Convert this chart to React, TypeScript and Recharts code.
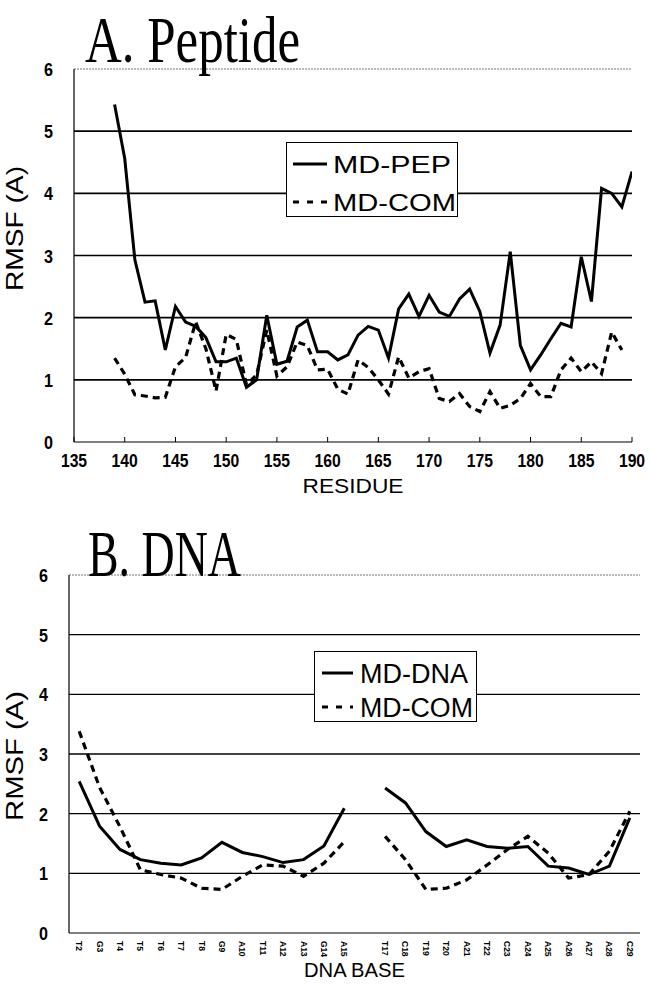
import React from 'react';
import { LineChart, Line, XAxis, YAxis, ReferenceLine, Legend } from 'recharts';

// ---------- Panel A: Peptide ----------
const residues = [
  139, 140, 141, 142, 143, 144, 145, 146, 147, 148, 149, 150, 151, 152, 153, 154, 155, 156,
  157, 158, 159, 160, 161, 162, 163, 164, 165, 166, 167, 168, 169, 170, 171, 172, 173, 174,
  175, 176, 177, 178, 179, 180, 181, 182, 183, 184, 185, 186, 187, 188, 189, 190,
];
const mdPep = [
  5.43, 4.56, 2.93, 2.25, 2.27, 1.48, 2.18, 1.93, 1.86, 1.68, 1.29, 1.29, 1.35, 0.88, 1.0, 2.04, 1.25, 1.3,
  1.85, 1.96, 1.45, 1.45, 1.32, 1.4, 1.72, 1.86, 1.8, 1.35, 2.14, 2.38, 2.02, 2.36, 2.09, 2.02, 2.3, 2.46,
  2.1, 1.43, 1.88, 3.06, 1.55, 1.16, 1.4, 1.66, 1.91, 1.85, 2.98, 2.26, 4.08, 4.0, 3.78, 4.35,
];
const mdPepCom = [
  1.35, 1.09, 0.76, 0.74, 0.71, 0.72, 1.21, 1.36, 1.93, 1.5, 0.82, 1.73, 1.65, 0.92, 1.08, 1.8, 1.06, 1.21,
  1.61, 1.55, 1.16, 1.17, 0.85, 0.77, 1.32, 1.2, 1.0, 0.77, 1.37, 1.03, 1.13, 1.18, 0.7, 0.65, 0.78, 0.57,
  0.49, 0.81, 0.54, 0.59, 0.7, 0.94, 0.73, 0.73, 1.16, 1.35, 1.13, 1.29, 1.1, 1.77, 1.48, null,
];
const residueTicks = [135, 140, 145, 150, 155, 160, 165, 170, 175, 180, 185, 190];

// ---------- Panel B: DNA ----------
const dnaBases = [
  'T2', 'G3', 'T4', 'T5', 'T6', 'T7', 'T8', 'G9', 'A10', 'T11', 'A12', 'A13', 'G14', 'A15', '',
  'T17', 'C18', 'T19', 'T20', 'A21', 'T22', 'C23', 'A24', 'A25', 'A26', 'A27', 'A28', 'C29',
];
const mdDna = [
  2.54, 1.79, 1.4, 1.23, 1.17, 1.14, 1.26, 1.52, 1.35, 1.28, 1.18, 1.23, 1.46, 2.09, null,
  2.43, 2.18, 1.7, 1.45, 1.56, 1.45, 1.42, 1.45, 1.12, 1.09, 0.98, 1.12, 1.93,
];
const mdDnaCom = [
  3.38, 2.44, 1.78, 1.06, 0.98, 0.92, 0.75, 0.73, 0.95, 1.14, 1.12, 0.95, 1.17, 1.53, null,
  1.62, 1.23, 0.73, 0.75, 0.89, 1.14, 1.4, 1.62, 1.34, 0.92, 0.98, 1.37, 2.04,
];

const rmsfTicks = [0, 1, 2, 3, 4, 5, 6];
const gridValues = [1, 2, 3, 4, 5];

const peptideData = residues.map((r, i) => ({ res: r, pep: mdPep[i], com: mdPepCom[i] }));
const dnaData = dnaBases.map((b, i) => ({ base: b, dna: mdDna[i], com: mdDnaCom[i] }));
const edgeTicks = Array.from({ length: dnaBases.length + 1 }, (_, i) => i);

const SANS = "'Liberation Sans', Arial, Helvetica, sans-serif";
const SERIF = "'Liberation Serif', 'Times New Roman', serif";
const DASH = '7 5';

const XTickA = (props: any) => {
  const { x, y, payload } = props;
  return (
    <text transform={`translate(${x},${y + 13}) scale(0.85,1)`} textAnchor="middle" fontFamily={SANS} fontSize={18.5} fontWeight="bold" fill="#000">
      {payload.value}
    </text>
  );
};

const YTick = (props: any) => {
  const { x, y, payload } = props;
  return (
    <text transform={`translate(${x},${y + 7}) scale(0.85,1)`} textAnchor="end" fontFamily={SANS} fontSize={19} fontWeight="bold" fill="#000">
      {payload.value}
    </text>
  );
};

const XTickB = (props: any) => {
  const { x, y, payload } = props;
  return (
    <text transform={`translate(${x - 3},${y}) rotate(90)`} textAnchor="start" fontFamily={SANS} fontSize={8.5} fontWeight="bold" fill="#000">
      {payload.value}
    </text>
  );
};

const EmptyTick = () => <g />;

const xTitle = (text: string, dy: number, len: number) => (p: any) => {
  const vb = p.viewBox || {};
  return (
    <text x={vb.x + vb.width / 2} y={vb.y + dy} textAnchor="middle" fontFamily={SANS} fontSize={20} fill="#000" textLength={len} lengthAdjust="spacingAndGlyphs">
      {text}
    </text>
  );
};

const yTitle = (text: string, cx: number, dyc: number, len: number) => (p: any) => {
  const vb = p.viewBox || {};
  const cy = vb.y + vb.height / 2 + dyc;
  return (
    <text transform={`translate(${cx},${cy}) rotate(-90)`} textAnchor="middle" fontFamily={SANS} fontSize={24} fill="#000" textLength={len} lengthAdjust="spacingAndGlyphs">
      {text}
    </text>
  );
};

const makeLegend = (cfg: { order: string[]; w: number; h: number; rows: number[]; lx1: number; lx2: number; tx: number; fs: number; lens: number[] }) =>
  (props: any) => {
    const items = [...(props.payload || [])].sort(
      (a: any, b: any) => cfg.order.indexOf(a.dataKey) - cfg.order.indexOf(b.dataKey),
    );
    return (
      <svg width={cfg.w} height={cfg.h} style={{ display: 'block' }}>
        <rect x={0.5} y={0.5} width={cfg.w - 1} height={cfg.h - 1} fill="#fff" stroke="#000" strokeWidth={1} />
        {items.map((it: any, i: number) => {
          const cy = cfg.rows[i];
          const dash = it.dataKey === 'com' ? '6 8' : undefined;
          return (
            <g key={i}>
              <line x1={cfg.lx1} x2={cfg.lx2} y1={cy} y2={cy} stroke="#000" strokeWidth={3} strokeDasharray={dash} />
              <text x={cfg.tx} y={cy + cfg.fs * 0.36} fontFamily={SANS} fontSize={cfg.fs} fill="#000" textLength={cfg.lens[i]} lengthAdjust="spacingAndGlyphs">
                {it.value}
              </text>
            </g>
          );
        })}
      </svg>
    );
  };

const legendA = makeLegend({ order: ['pep', 'com'], w: 172, h: 75, rows: [22, 60], lx1: 7, lx2: 41, tx: 47, fs: 24, lens: [118, 123] });
const legendB = makeLegend({ order: ['dna', 'com'], w: 163, h: 71, rows: [22, 56], lx1: 8, lx2: 39, tx: 46, fs: 27, lens: [108, 113] });

export default function App() {
  return (
    <div style={{ position: 'absolute', left: 0, top: 0, width: 649, height: 989, background: '#fff', overflow: 'hidden' }}>
      <div style={{ position: 'absolute', left: 0, top: 0 }}>
        <LineChart width={649} height={500} data={peptideData} margin={{ top: 69, right: 17, bottom: 0, left: 0 }}>
          <XAxis
            dataKey="res"
            type="number"
            domain={[135, 190]}
            ticks={residueTicks}
            interval={0}
            allowDataOverflow
            height={58}
            tickSize={-5}
            tickMargin={17}
            tick={<XTickA />}
            axisLine={{ stroke: '#000', strokeWidth: 1.2 }}
            tickLine={{ stroke: '#000', strokeWidth: 1 }}
            label={{ content: xTitle('RESIDUE', 51, 101) } as any}
          />
          <YAxis
            yAxisId="l"
            domain={[0, 6]}
            ticks={rmsfTicks}
            interval={0}
            width={74}
            tickSize={0}
            tickMargin={21}
            tick={<YTick />}
            axisLine={{ stroke: '#000', strokeWidth: 1.2 }}
            tickLine={false}
            label={{ content: yTitle('RMSF (A)', 23, -27, 125) } as any}
          />
          <YAxis yAxisId="r" orientation="right" domain={[0, 6]} width={0} tick={false} tickLine={false} axisLine={{ stroke: '#777', strokeDasharray: '2 1' }} />
          {gridValues.map((v) => (
            <ReferenceLine key={v} yAxisId="l" y={v} stroke="#000" strokeWidth={1.6} />
          ))}
          <ReferenceLine yAxisId="l" y={6} stroke="#777" strokeDasharray="2 1" />
          <Line yAxisId="l" dataKey="pep" name="MD-PEP" stroke="#000" strokeWidth={3} dot={false} isAnimationActive={false} />
          <Line yAxisId="l" dataKey="com" name="MD-COM" stroke="#000" strokeWidth={3.2} strokeDasharray={DASH} dot={false} isAnimationActive={false} />
          <Legend
            layout="horizontal"
            verticalAlign="middle"
            align="center"
            width={172}
            height={75}
            content={legendA}
            wrapperStyle={{ left: 286, top: 142, width: 172, height: 75 }}
          />
        </LineChart>
      </div>

      <div style={{ position: 'absolute', left: 0, top: 500 }}>
        <LineChart width={649} height={489} data={dnaData} margin={{ top: 75, right: 9, bottom: 0, left: 0 }}>
          <XAxis
            xAxisId="edge"
            type="number"
            domain={[0, dnaBases.length]}
            ticks={edgeTicks}
            interval={0}
            allowDataOverflow
            height={0}
            tickSize={-4}
            tick={<EmptyTick />}
            axisLine={false}
            tickLine={{ stroke: '#000', strokeWidth: 1 }}
          />
          <XAxis
            xAxisId="cat"
            dataKey="base"
            type="category"
            interval={0}
            padding={{ left: 10.2, right: 10.2 }}
            height={56}
            tickLine={false}
            tickSize={0}
            tickMargin={8}
            tick={<XTickB />}
            axisLine={{ stroke: '#000', strokeWidth: 1.2 }}
            label={{ content: xTitle('DNA BASE', 44, 101) } as any}
          />
          <YAxis
            yAxisId="l"
            domain={[0, 6]}
            ticks={rmsfTicks}
            interval={0}
            width={69}
            tickSize={0}
            tickMargin={21}
            tick={<YTick />}
            axisLine={{ stroke: '#000', strokeWidth: 1.2 }}
            tickLine={false}
            label={{ content: yTitle('RMSF (A)', 23, 2, 130) } as any}
          />
          <YAxis yAxisId="r" orientation="right" domain={[0, 6]} width={0} tick={false} tickLine={false} axisLine={{ stroke: '#777', strokeDasharray: '2 1' }} />
          {gridValues.map((v) => (
            <ReferenceLine key={v} xAxisId="cat" yAxisId="l" y={v} stroke="#000" strokeWidth={1.4} />
          ))}
          <ReferenceLine xAxisId="cat" yAxisId="l" y={6} stroke="#777" strokeDasharray="2 1" />
          <Line xAxisId="cat" yAxisId="l" dataKey="dna" name="MD-DNA" stroke="#000" strokeWidth={3} dot={false} isAnimationActive={false} />
          <Line xAxisId="cat" yAxisId="l" dataKey="com" name="MD-COM" stroke="#000" strokeWidth={3.2} strokeDasharray={DASH} dot={false} isAnimationActive={false} />
          <Legend
            layout="horizontal"
            verticalAlign="middle"
            align="center"
            width={163}
            height={71}
            content={legendB}
            wrapperStyle={{ left: 314, top: 151, width: 163, height: 71 }}
          />
        </LineChart>
      </div>

      <svg width={649} height={989} style={{ position: 'absolute', left: 0, top: 0, pointerEvents: 'none' }}>
        <text x={85} y={62} fontFamily={SERIF} fontSize={66} fill="#000" textLength={215} lengthAdjust="spacingAndGlyphs">
          A. Peptide
        </text>
        <text x={88} y={576} fontFamily={SERIF} fontSize={66} fill="#000" textLength={153} lengthAdjust="spacingAndGlyphs">
          B. DNA
        </text>
      </svg>
    </div>
  );
}
